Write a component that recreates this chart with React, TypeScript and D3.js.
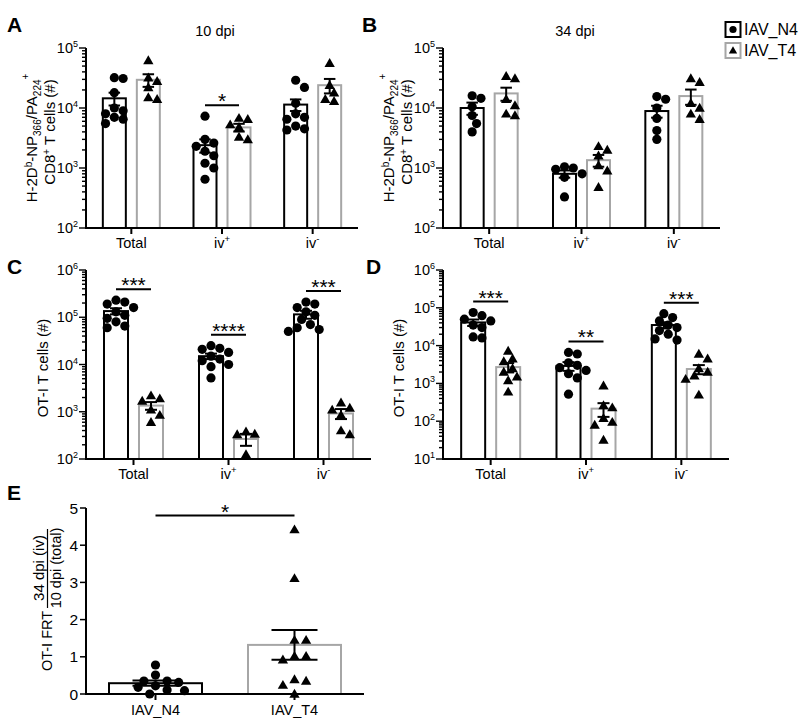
import React from "react";
import * as d3 from "d3";

const FONT = "'Liberation Sans', Arial, Helvetica, sans-serif";
const GRAY = "#a6a6a6";

const categories = ["Total", "iv+", "iv-"];
const groupNames = ["IAV_N4", "IAV_T4"];

// Panel A: 10 dpi, H-2Db-NP366/PA224+ CD8+ T cells
const aN4Points = [
  [32000, 31000, 18000, 10000, 9000, 8000, 7000, 6500, 5500],
  [7300, 3000, 2600, 2300, 1900, 1600, 1200, 1000, 650],
  [29000, 22000, 12000, 8000, 7000, 6500, 5000, 4500, 4300],
];
const aT4Points = [
  [62000, 32000, 28000, 22000, 15000, 14000],
  [6800, 6500, 5300, 4800, 3300, 3000],
  [56000, 24000, 18000, 14000, 13000],
];
const aN4Mean = [14500, 2400, 11400];
const aN4Sem = [3500, 600, 2500];
const aT4Mean = [29500, 4750, 24000];
const aT4Sem = [7000, 700, 6500];
const aSig = ["", "*", ""];

// Panel B: 34 dpi
const bN4Points = [
  [16000, 14500, 10500, 7500, 5500, 4000],
  [1050, 1000, 950, 800, 700, 330],
  [15500, 14000, 10000, 6700, 4200, 3000],
];
const bT4Points = [
  [34000, 31000, 14000, 11000, 8000, 7500],
  [2300, 2000, 1600, 1100, 900, 480],
  [31000, 27000, 12000, 10000, 8000, 6500],
];
const bN4Mean = [10000, 800, 8900];
const bN4Sem = [2300, 110, 2000];
const bT4Mean = [17500, 1350, 15800];
const bT4Sem = [4300, 300, 4500];
const bSig = ["", "", ""];

// Panel C: OT-I T cells, 10 dpi
const cN4Points = [
  [230000, 210000, 190000, 160000, 130000, 110000, 95000, 80000, 65000, 60000],
  [25000, 22000, 21000, 18000, 15000, 13000, 12000, 10000, 9000, 5200],
  [210000, 190000, 160000, 130000, 110000, 90000, 70000, 60000, 55000, 50000],
];
const cT4Points = [
  [2200, 1900, 1700, 1100, 850, 600],
  [380, 340, 330, 125],
  [1550, 1200, 1100, 850, 400, 330],
];
const cN4Mean = [135000, 15000, 115000];
const cN4Sem = [20000, 2000, 22000];
const cT4Mean = [1350, 265, 920];
const cT4Sem = [250, 75, 220];
const cSig = ["***", "****", "***"];

// Panel D: OT-I T cells, 34 dpi
const dN4Points = [
  [75000, 62000, 50000, 45000, 35000, 30000, 17000, 16000],
  [6600, 6000, 3500, 3000, 2600, 2200, 1800, 1400, 520],
  [70000, 55000, 45000, 35000, 30000, 25000, 20000, 15000, 14000],
];
const dT4Points = [
  [7200, 4500, 3800, 2500, 2000, 1500, 1200, 600],
  [870, 260, 230, 120, 95, 80, 32],
  [6000, 4500, 2500, 2000, 1600, 1300, 500],
];
const dN4Mean = [41000, 2900, 35000];
const dN4Sem = [8000, 750, 6500];
const dT4Mean = [2700, 215, 2400];
const dT4Sem = [750, 85, 650];
const dSig = ["***", "**", "***"];

// Panel E: OT-I FRT ratio
const eN4Points = [0.78, 0.51, 0.35, 0.35, 0.31, 0.22, 0.18, 0.11, 0.09, 0.0];
const eT4Points = [4.42, 3.11, 1.45, 1.45, 1.02, 1.02, 0.92, 0.39, 0.35, 0.24, 0.0];
const eMeans = [0.29, 1.32];
const eSems = [0.07, 0.4];
const eTicks = [0, 1, 2, 3, 4, 5];
const eSig = "*";

const triPath = d3.symbol().type(d3.symbolTriangle).size(46)() as string;

type Placed = { x: number; y: number };
function swarm(values: number[], y: (v: number) => number, r: number, step: number): Placed[] {
  const pts = values.map((v) => y(v)).sort((a, b) => a - b);
  const placed: Placed[] = [];
  for (const py of pts) {
    let chosen = 0;
    for (let k = 0; k < 60; k++) {
      const cand = k === 0 ? 0 : (k % 2 === 1 ? 1 : -1) * Math.ceil(k / 2) * step;
      if (placed.every((q) => Math.hypot(q.x - cand, q.y - py) >= 2 * r * 0.92)) {
        chosen = cand;
        break;
      }
    }
    placed.push({ x: chosen, y: py });
  }
  return placed;
}

function Marker({ kind, x, y }: { kind: "c" | "t"; x: number; y: number }) {
  return kind === "c" ? (
    <circle cx={x} cy={y} r={4.6} fill="#000" />
  ) : (
    <path d={triPath} transform={`translate(${x},${y + 0.8})`} fill="#000" />
  );
}

function CatLabel({ name, x, y }: { name: string; x: number; y: number }) {
  const last = name.slice(-1);
  const hasSup = last === "+" || last === "-";
  const base = hasSup ? name.slice(0, -1) : name;
  return (
    <text x={x} y={y} textAnchor="middle" fontSize={14.5}>
      {base}
      {hasSup && (
        <tspan dy={-6} fontSize={9.5}>
          {last === "-" ? "-" : "+"}
        </tspan>
      )}
    </text>
  );
}

type LogProps = {
  x0: number;
  x1: number;
  yTop: number;
  yBottom: number;
  expLo: number;
  expHi: number;
  n4: number[][];
  t4: number[][];
  n4Mean: number[];
  n4Sem: number[];
  t4Mean: number[];
  t4Sem: number[];
  sig: string[];
  barW: number;
  off: number;
};

function LogPanel(p: LogProps) {
  const y = d3.scaleLog().domain([10 ** p.expLo, 10 ** p.expHi]).range([p.yBottom, p.yTop]);
  const xb = d3.scaleBand<string>().domain(categories).range([p.x0, p.x1]);
  const ticks: { v: number; major: boolean; e: number }[] = [];
  for (let e = p.expLo; e <= p.expHi; e++) {
    for (let m = 1; m <= 9; m++) {
      const v = m * 10 ** e;
      if (v > 10 ** p.expHi * 1.0001) break;
      ticks.push({ v, major: m === 1, e });
    }
  }
  const capW = p.barW * 0.5;
  return (
    <g>
      {categories.map((cat, i) => {
        const cx = (xb(cat) as number) + xb.bandwidth() / 2;
        const groups = [
          { pts: p.n4[i], mean: p.n4Mean[i], sem: p.n4Sem[i], cx: cx - p.off, kind: "c" as const, color: "#000" },
          { pts: p.t4[i], mean: p.t4Mean[i], sem: p.t4Sem[i], cx: cx + p.off, kind: "t" as const, color: GRAY },
        ];
        const maxPt = Math.max(...p.n4[i], ...p.t4[i], p.n4Mean[i] + p.n4Sem[i], p.t4Mean[i] + p.t4Sem[i]);
        const lineY = y(maxPt) - 11;
        return (
          <g key={cat}>
            {groups.map((g, gi) => (
              <rect
                key={"b" + gi}
                x={g.cx - p.barW / 2}
                y={y(g.mean)}
                width={p.barW}
                height={p.yBottom - y(g.mean)}
                fill="#fff"
                stroke={g.color}
                strokeWidth={2}
              />
            ))}
            {groups.map((g, gi) =>
              swarm(g.pts, (v) => y(v), 4.6, 4.4).map((q, k) => (
                <Marker key={"m" + gi + "-" + k} kind={g.kind} x={g.cx + q.x} y={q.y} />
              ))
            )}
            {groups.map((g, gi) => {
              const t = y(g.mean + g.sem);
              const b = y(Math.max(g.mean - g.sem, 10 ** p.expLo));
              return (
                <g key={"e" + gi} stroke="#000" strokeWidth={2}>
                  <line x1={g.cx} x2={g.cx} y1={t} y2={b} />
                  <line x1={g.cx - capW / 2} x2={g.cx + capW / 2} y1={t} y2={t} />
                  <line x1={g.cx - capW / 2} x2={g.cx + capW / 2} y1={b} y2={b} />
                </g>
              );
            })}
            {p.sig[i] && (
              <g>
                <line x1={cx - p.off} x2={cx + p.off} y1={lineY} y2={lineY} stroke="#000" strokeWidth={2} />
                <text x={cx} y={lineY + 3} textAnchor="middle" fontSize={21}>
                  {p.sig[i]}
                </text>
              </g>
            )}
            <line x1={cx} x2={cx} y1={p.yBottom} y2={p.yBottom + 6} stroke="#000" strokeWidth={2} />
            <CatLabel name={cat} x={cx} y={p.yBottom + 20} />
          </g>
        );
      })}
      {ticks.map((t, k) => (
        <line
          key={"t" + k}
          x1={p.x0}
          x2={p.x0 - (t.major ? 7 : 4)}
          y1={y(t.v)}
          y2={y(t.v)}
          stroke="#000"
          strokeWidth={1.4}
        />
      ))}
      {ticks
        .filter((t) => t.major)
        .map((t) => (
          <text key={"l" + t.e} x={p.x0 - 8} y={y(t.v) + 5} textAnchor="end" fontSize={14.5}>
            10
            <tspan dy={-6} fontSize={9}>
              {t.e}
            </tspan>
          </text>
        ))}
      <line x1={p.x0} x2={p.x0} y1={p.yTop} y2={p.yBottom + 1} stroke="#000" strokeWidth={2} />
      <line x1={p.x0 - 1} x2={p.x1} y1={p.yBottom} y2={p.yBottom} stroke="#000" strokeWidth={2} />
    </g>
  );
}

function RotText({ x, y, size = 15, children }: { x: number; y: number; size?: number; children: React.ReactNode }) {
  return (
    <text transform={`translate(${x},${y}) rotate(-90)`} textAnchor="middle" fontSize={size}>
      {children}
    </text>
  );
}

function TetLabel({ x, y }: { x: number; y: number }) {
  return (
    <g>
      <RotText x={x} y={y}>
        H-2D
        <tspan dy={-5} fontSize={10}>b</tspan>
        <tspan dy={5}>-NP</tspan>
        <tspan dy={4} fontSize={10}>366</tspan>
        <tspan dy={-4}>/PA</tspan>
        <tspan dy={4} fontSize={10}>224</tspan>
        <tspan dy={-12} fontSize={10}>+</tspan>
      </RotText>
      <RotText x={x + 18} y={y - 6}>
        CD8
        <tspan dy={-5} fontSize={10}>+</tspan>
        <tspan dy={5}> T cells (#)</tspan>
      </RotText>
    </g>
  );
}

function PanelE() {
  const x0 = 86,
    x1 = 364,
    yTop = 508,
    yBottom = 694;
  const y = d3.scaleLinear().domain([0, 5]).range([yBottom, yTop]);
  const xb = d3.scaleBand<string>().domain(groupNames).range([x0, x1]);
  const barW = 93;
  const data = [
    { pts: eN4Points, kind: "c" as const, color: "#000" },
    { pts: eT4Points, kind: "t" as const, color: GRAY },
  ];
  const centers = groupNames.map((g) => (xb(g) as number) + xb.bandwidth() / 2);
  const maxAll = Math.max(...eN4Points, ...eT4Points);
  const lineY = y(maxAll) - 14;
  return (
    <g>
      {data.map((d, i) => (
        <rect
          key={"b" + i}
          x={centers[i] - barW / 2}
          y={y(eMeans[i])}
          width={barW}
          height={yBottom - y(eMeans[i])}
          fill="#fff"
          stroke={d.color}
          strokeWidth={2}
        />
      ))}
      {data.map((d, i) =>
        swarm(d.pts, (v) => y(v), 4.6, 5.8).map((q, k) => (
          <Marker key={"m" + i + k} kind={d.kind} x={centers[i] + q.x} y={q.y} />
        ))
      )}
      {data.map((d, i) => {
        const t = y(eMeans[i] + eSems[i]);
        const b = y(eMeans[i] - eSems[i]);
        const cw = 46;
        return (
          <g key={"e" + i} stroke="#000" strokeWidth={2}>
            <line x1={centers[i]} x2={centers[i]} y1={t} y2={b} />
            <line x1={centers[i] - cw / 2} x2={centers[i] + cw / 2} y1={t} y2={t} />
            <line x1={centers[i] - cw / 2} x2={centers[i] + cw / 2} y1={b} y2={b} />
          </g>
        );
      })}
      <line x1={centers[0]} x2={centers[1]} y1={lineY} y2={lineY} stroke="#000" strokeWidth={2} />
      <text x={(centers[0] + centers[1]) / 2} y={lineY + 3} textAnchor="middle" fontSize={21}>
        {eSig}
      </text>
      {eTicks.map((t) => (
        <g key={t}>
          <line x1={x0} x2={x0 - 6} y1={y(t)} y2={y(t)} stroke="#000" strokeWidth={1.5} />
          <text x={x0 - 8} y={y(t) + 5.5} textAnchor="end" fontSize={15.5}>
            {t}
          </text>
        </g>
      ))}
      {groupNames.map((g, i) => (
        <g key={g}>
          <line x1={centers[i]} x2={centers[i]} y1={yBottom} y2={yBottom + 6} stroke="#000" strokeWidth={2} />
          <text x={centers[i]} y={yBottom + 21} textAnchor="middle" fontSize={14.5}>
            {g}
          </text>
        </g>
      ))}
      <line x1={x0} x2={x0} y1={yTop} y2={yBottom + 1} stroke="#000" strokeWidth={2} />
      <line x1={x0 - 1} x2={x1} y1={yBottom} y2={yBottom} stroke="#000" strokeWidth={2} />
      <RotText x={52} y={641} size={14.5}>
        OT-I FRT
      </RotText>
      <RotText x={44} y={568} size={15}>
        34 dpi (iv)
      </RotText>
      <line x1={47.5} x2={47.5} y1={529} y2={608} stroke="#000" strokeWidth={1.2} />
      <RotText x={61} y={568} size={14.5}>
        10 dpi (total)
      </RotText>
    </g>
  );
}

export default function App() {
  return (
    <svg
      width={800}
      height={726}
      style={{ position: "absolute", left: 0, top: 0, background: "#fff" }}
      fontFamily={FONT}
    >
      <rect width={800} height={726} fill="#fff" />
      <g fontWeight="bold" fontSize={21}>
        <text x={7} y={32}>A</text>
        <text x={362} y={32}>B</text>
        <text x={7} y={274}>C</text>
        <text x={366} y={274}>D</text>
        <text x={7} y={500}>E</text>
      </g>
      <text x={215} y={36} textAnchor="middle" fontSize={14.5}>10 dpi</text>
      <text x={575} y={36} textAnchor="middle" fontSize={14.5}>34 dpi</text>

      <TetLabel x={37} y={138} />
      <TetLabel x={394} y={138} />
      <RotText x={48} y={368}>OT-I T cells (#)</RotText>
      <RotText x={404} y={368}>OT-I T cells (#)</RotText>

      <LogPanel
        x0={86} x1={358} yTop={48} yBottom={228} expLo={2} expHi={5}
        n4={aN4Points} t4={aT4Points} n4Mean={aN4Mean} n4Sem={aN4Sem}
        t4Mean={aT4Mean} t4Sem={aT4Sem} sig={aSig} barW={23} off={17}
      />
      <LogPanel
        x0={443} x1={720} yTop={48} yBottom={228} expLo={2} expHi={5}
        n4={bN4Points} t4={bT4Points} n4Mean={bN4Mean} n4Sem={bN4Sem}
        t4Mean={bT4Mean} t4Sem={bT4Sem} sig={bSig} barW={23} off={17}
      />
      <LogPanel
        x0={86} x1={371} yTop={270} yBottom={459} expLo={2} expHi={6}
        n4={cN4Points} t4={cT4Points} n4Mean={cN4Mean} n4Sem={cN4Sem}
        t4Mean={cT4Mean} t4Sem={cT4Sem} sig={cSig} barW={24} off={17.5}
      />
      <LogPanel
        x0={443} x1={729} yTop={270} yBottom={459} expLo={1} expHi={6}
        n4={dN4Points} t4={dT4Points} n4Mean={dN4Mean} n4Sem={dN4Sem}
        t4Mean={dT4Mean} t4Sem={dT4Sem} sig={dSig} barW={24} off={17.5}
      />
      <PanelE />

      <g>
        <rect x={725.5} y={22} width={15} height={15} fill="#fff" stroke="#000" strokeWidth={2} />
        <circle cx={733} cy={29.5} r={3.6} fill="#000" />
        <text x={744} y={35} fontSize={16}>{groupNames[0]}</text>
        <rect x={725.5} y={43} width={15} height={15} fill="#fff" stroke={GRAY} strokeWidth={2} />
        <path d={d3.symbol().type(d3.symbolTriangle).size(30)() as string} transform="translate(733,51)" fill="#000" />
        <text x={744} y={56} fontSize={16}>{groupNames[1]}</text>
      </g>
    </svg>
  );
}
